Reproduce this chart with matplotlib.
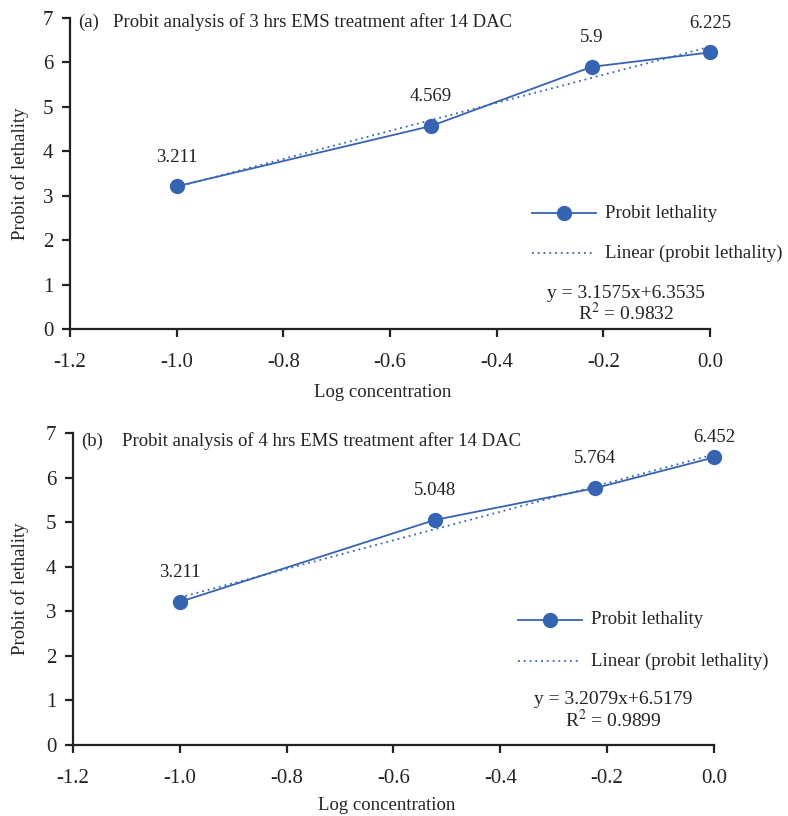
import matplotlib
matplotlib.use("Agg")
import matplotlib.pyplot as plt
import numpy as np

plt.rcParams['font.family'] = ['Liberation Serif', 'DejaVu Serif']
plt.rcParams['mathtext.fontset'] = 'stix'

# data
log_conc = [-1.0, -0.523, -0.222, 0.0]
probit_3h = [3.211, 4.569, 5.9, 6.225]
probit_4h = [3.211, 5.048, 5.764, 6.452]
labels_3h = ["3.211", "4.569", "5.9", "6.225"]
labels_4h = ["3.211", "5.048", "5.764", "6.452"]
fit_3h = (3.1575, 6.3535, 0.9832)
fit_4h = (3.2079, 6.5179, 0.9899)
titles = ["Probit analysis of 3 hrs EMS treatment after 14 DAC",
          "Probit analysis of 4 hrs EMS treatment after 14 DAC"]
panel_tags = ["(a)", "(b)"]
xticks = [-1.2, -1.0, -0.8, -0.6, -0.4, -0.2, 0.0]

color = '#3564b2'
W, H = 788, 816
fig = plt.figure(figsize=(W / 100, H / 100), dpi=100)


def fx(px):
    return px / W


def fy(py):
    return 1 - py / H


# axes boxes in pixels: left, right, top, bottom
boxes = [(70, 710, 18, 329), (73, 714, 433, 745)]
label_offsets = [[21, 21, 21, 21], [21, 21, 21, 14]]
legend_pos = [(532, 213, 40), (518, 620, 41)]
eq_pos = [(626, 293), (613, 700)]
xlabel_y = [392, 806]
title_y = [22, 441]

panels = [(probit_3h, labels_3h, fit_3h), (probit_4h, labels_4h, fit_4h)]

for i, (yvals, labs, fit) in enumerate(panels):
    l, r, t, b = boxes[i]
    ax = fig.add_axes([fx(l), fy(b), fx(r - l), fy(t) - fy(b)])
    slope, icept, r2 = fit
    xs = np.array([log_conc[0], log_conc[-1]])
    ax.plot(xs, slope * xs + icept, linestyle=(0, (1, 2.2)), color=color,
            lw=1.3, clip_on=False)
    ax.plot(log_conc, yvals, '-o', color=color, lw=1.3, markersize=10,
            clip_on=False, zorder=3)
    for xv, yv, s, off in zip(log_conc, yvals, labs, label_offsets[i]):
        ax.annotate(s, (xv, yv), xytext=(0, off), textcoords='offset points',
                    ha='center', va='center', fontsize=13.5, color='#222222')
    ax.set_xlim(-1.2, 0.0)
    ax.set_ylim(0, 7)
    ax.set_xticks(xticks)
    ax.set_xticklabels([f"{v:.1f}" for v in xticks])
    ax.set_yticks(range(8))
    ax.spines['top'].set_visible(False)
    for sp in ['left', 'bottom']:
        ax.spines[sp].set_linewidth(1.6)
        ax.spines[sp].set_color('#222222')
    ax.spines['right'].set_bounds(0, 0)
    ax.tick_params(direction='out', length=6, width=1.6, labelsize=15,
                   colors='#222222')
    ax.tick_params(axis='x', pad=11)
    ax.tick_params(axis='y', pad=6)

    # title inside the axes
    fig.text(fx(l + 8), fy(title_y[i]), panel_tags[i], fontsize=13.5,
             va='center', color='#222222')
    fig.text(fx(l + 43 + 6 * i), fy(title_y[i]), titles[i], fontsize=13.5,
             va='center', color='#222222')

    # axis labels
    fig.text(fx(20), (fy(t) + fy(b)) / 2, "Probit of lethality", rotation=90,
             fontsize=13.5, ha='center', va='center', color='#222222')
    fig.text(fx((l + r) / 2 - 7), fy(xlabel_y[i]), "Log concentration",
             fontsize=13.5, ha='center', va='center', color='#222222')

    # legend drawn by hand in pixel coordinates
    lx, ly, dy = legend_pos[i]
    fig.add_artist(plt.Line2D([fx(lx), fx(lx + 64)], [fy(ly), fy(ly)],
                              color=color, lw=1.3, transform=fig.transFigure))
    fig.add_artist(plt.Line2D([fx(lx + 32)], [fy(ly)], color=color,
                              marker='o', markersize=10,
                              transform=fig.transFigure))
    fig.text(fx(lx + 73), fy(ly), "Probit lethality", fontsize=13.5,
             va='center', color='#222222')
    fig.add_artist(plt.Line2D([fx(lx), fx(lx + 62)], [fy(ly + dy), fy(ly + dy)],
                              color=color, lw=1.3, linestyle=(0, (1, 2.2)),
                              transform=fig.transFigure))
    fig.text(fx(lx + 73), fy(ly + dy), "Linear (probit lethality)",
             fontsize=13.5, va='center', color='#222222')

    ex, ey = eq_pos[i]
    fig.text(fx(ex), fy(ey), f"y = {slope}x+{icept}", fontsize=14,
             ha='center', va='center', color='#222222')
    fig.text(fx(ex), fy(ey + 20), f"R$^{{2}}$ = {r2}", fontsize=14,
             ha='center', va='center', color='#222222')

fig.savefig("out.png", dpi=100)
